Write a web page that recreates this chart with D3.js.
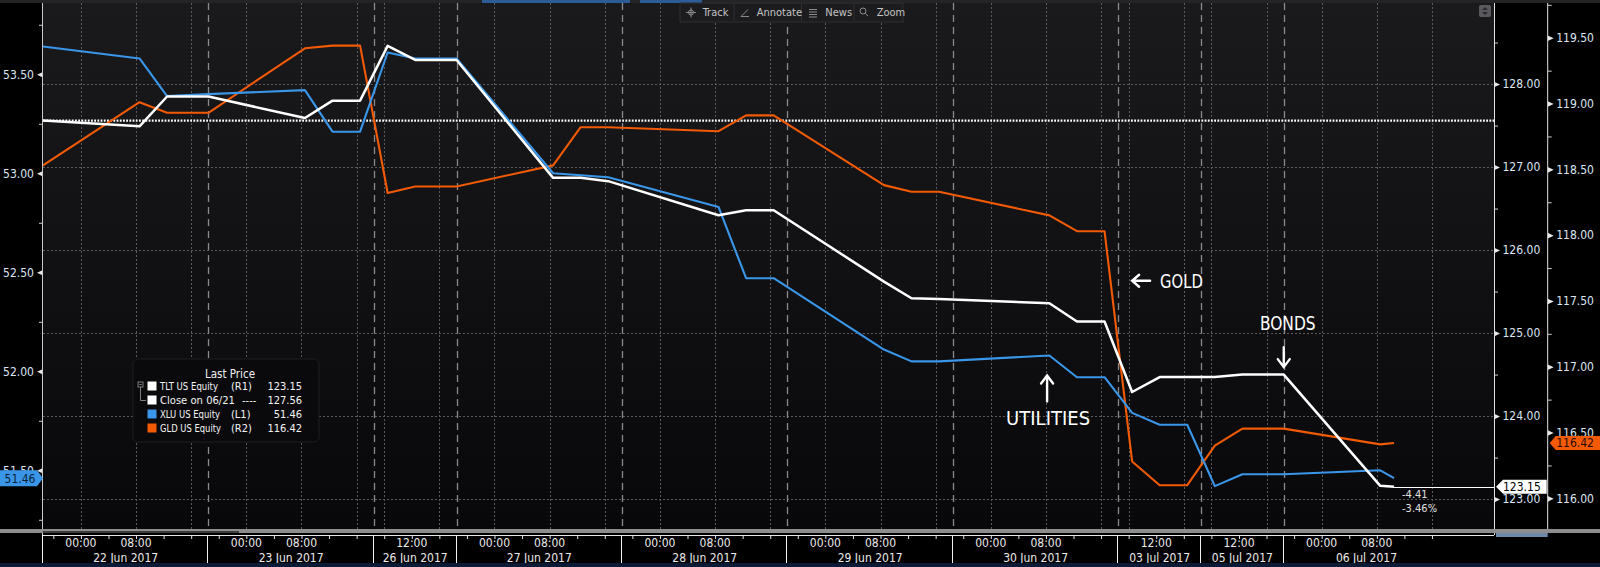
<!DOCTYPE html>
<html><head><meta charset="utf-8">
<script src="https://cdn.jsdelivr.net/npm/d3@7"></script>
<style>
html,body{margin:0;padding:0;background:#000;overflow:hidden}
svg{display:block}
text{font-family:"DejaVu Sans Condensed","DejaVu Sans",sans-serif;font-stretch:condensed}
.narrow{font-family:"Liberation Sans Narrow","DejaVu Sans Condensed","DejaVu Sans",sans-serif}
</style></head><body>
<svg id="c" width="1600" height="567"></svg>
<script>
// ---------------- DATA ----------------
const sessionLabels = ["22 Jun 2017","23 Jun 2017","26 Jun 2017","27 Jun 2017","28 Jun 2017","29 Jun 2017","30 Jun 2017","03 Jul 2017","05 Jul 2017","06 Jul 2017"];
const sessionStarts = ["2017-06-21 18:30","2017-06-22 18:30","2017-06-26 06:30","2017-06-26 18:30","2017-06-27 18:30","2017-06-28 18:30","2017-06-29 18:30","2017-07-03 06:30","2017-07-05 06:30","2017-07-05 18:30"];
const sessionEnds   = ["2017-06-22 18:30","2017-06-23 18:30","2017-06-26 18:30","2017-06-27 18:30","2017-06-28 18:30","2017-06-29 18:30","2017-06-30 18:30","2017-07-03 18:30","2017-07-05 18:30","2017-07-06 18:30"];
const sessionTimeLabels = [["00:00","08:00"],["00:00","08:00"],["12:00"],["00:00","08:00"],["00:00","08:00"],["00:00","08:00"],["00:00","08:00"],["12:00"],["12:00"],["00:00","08:00"]];
const chartEnd = "2017-07-07 01:00";

const times = ["2017-06-21 18:30","2017-06-22 08:30","2017-06-22 12:30","2017-06-22 18:30","2017-06-23 08:30","2017-06-23 12:30","2017-06-23 16:30",
 "2017-06-26 08:30","2017-06-26 12:30","2017-06-26 18:30","2017-06-27 08:30","2017-06-27 12:30","2017-06-27 16:30",
 "2017-06-28 08:30","2017-06-28 12:30","2017-06-28 16:30","2017-06-29 08:30","2017-06-29 12:30","2017-06-29 16:30",
 "2017-06-30 08:30","2017-06-30 12:30","2017-06-30 16:30","2017-07-03 08:30","2017-07-03 12:30","2017-07-03 16:30",
 "2017-07-05 08:30","2017-07-05 12:30","2017-07-05 18:30","2017-07-06 08:30","2017-07-06 10:30"];
const tltValues = [127.56,127.49,127.85,127.85,127.59,127.80,127.80,128.46,128.29,128.29,126.87,126.87,126.83,126.42,126.48,126.48,125.62,125.42,125.41,125.36,125.14,125.14,124.29,124.47,124.47,124.47,124.50,124.50,123.16,123.15];
const xluValues = [53.64,53.58,53.39,53.40,53.42,53.21,53.21,53.61,53.58,53.58,53.00,52.99,52.98,52.83,52.47,52.47,52.11,52.05,52.05,52.08,51.97,51.97,51.79,51.73,51.73,51.42,51.48,51.48,51.50,51.46];
const gldValues = [118.53,119.01,118.93,118.93,119.42,119.44,119.44,118.32,118.37,118.37,118.53,118.82,118.82,118.79,118.91,118.91,118.38,118.33,118.33,118.15,118.03,118.03,116.28,116.10,116.10,116.40,116.53,116.53,116.41,116.42];
const closeValue = 127.56;

const legendNames = ["TLT US Equity","Close on 06/21","XLU US Equity","GLD US Equity"];
const legendTags  = ["(R1)","----","(L1)","(R2)"];

const l1Ticks = [51.5,52.0,52.5,53.0,53.5];
const l1Minor = [51.25,51.75,52.25,52.75,53.25,53.75];
const r1Ticks = [123,124,125,126,127,128];
const r1Minor = [123.5,124.5,125.5,126.5,127.5,128.5];
const r2Ticks = [116.0,116.5,117.0,117.5,118.0,118.5,119.0,119.5];
const r2Minor = [116.25,116.75,117.25,117.75,118.25,118.75,119.25,119.75];
const l1Domain = [51.2035,53.860];
const r1Domain = [122.64,128.976];
const r2Domain = [115.767,119.764];

const annotations = [
  {label:"GOLD", dir:"left", t:"2017-07-03 08:30", v:125.63},
  {label:"BONDS", dir:"down", t:"2017-07-05 18:30", v:124.59},
  {label:"UTILITIES", dir:"up", t:"2017-06-30 08:10", v:124.49}
];

// ---------------- LAYOUT ----------------
const W=1600,H=567;
const M={left:43,right:1494,top:3,bottom:529};
const R2X=1547.7, AX_Y=535;
const C={tlt:"#ffffff",xlu:"#3a96e8",gld:"#f25a05"};
const f2v=d3.format(".2f");
const f2=v=>f2v(v).replace("\u2212","-");

const svg=d3.select("#c");
const defs=svg.append("defs");
const grad=defs.append("linearGradient").attr("id","bg").attr("x1",0).attr("x2",0).attr("y1",0).attr("y2",1);
grad.append("stop").attr("offset","0%").attr("stop-color","#1a1a1d");
grad.append("stop").attr("offset","100%").attr("stop-color","#08080a");

svg.append("rect").attr("width",W).attr("height",H).attr("fill","#000");
svg.append("rect").attr("x",M.left).attr("y",M.top).attr("width",M.right-M.left).attr("height",M.bottom-M.top).attr("fill","url(#bg)");
svg.append("rect").attr("x",0).attr("y",0).attr("width",W).attr("height",3).attr("fill","#242427");
svg.append("rect").attr("x",482).attr("y",0).attr("width",148).attr("height",3).attr("fill","#2c5c95");
svg.append("rect").attr("x",640).attr("y",0).attr("width",62).attr("height",3).attr("fill","#2c5c95");

// ---------------- SCALES ----------------
const parse=d3.utcParse("%Y-%m-%d %H:%M");
const sessions=sessionLabels.map((l,i)=>({label:l,start:parse(sessionStarts[i]),end:parse(sessionEnds[i]),tl:sessionTimeLabels[i],date:sessionEnds[i].slice(0,10)}));
const dom=[],hrs=[];let cum=0;
sessions.forEach(s=>{
  if(!dom.length||+dom[dom.length-1]!==+s.start){dom.push(s.start);hrs.push(cum);}
  cum+=(s.end-s.start)/36e5; dom.push(s.end); hrs.push(cum);
});
const endT=parse(chartEnd); cum+=(endT-dom[dom.length-1])/36e5; dom.push(endT); hrs.push(cum);
const x=d3.scaleLinear().domain(dom).range(hrs.map(h=>M.left+h/cum*(M.right-M.left)));
const yL=d3.scaleLinear().domain(l1Domain).range([M.bottom,M.top]);
const yR1=d3.scaleLinear().domain(r1Domain).range([M.bottom,M.top]);
const yR2=d3.scaleLinear().domain(r2Domain).range([M.bottom,M.top]);

// ---------------- GRID ----------------
const g=svg.append("g");
g.selectAll("line.hg").data(r1Ticks).join("line")
  .attr("x1",M.left).attr("x2",M.right).attr("y1",d=>Math.round(yR1(d))+0.5).attr("y2",d=>Math.round(yR1(d))+0.5)
  .attr("stroke","#5a5a5e").attr("stroke-dasharray","2,2");
const tick4=[];
sessions.forEach(s=>{ d3.utcHour.every(4).range(s.start,s.end).forEach(t=>tick4.push(t)); });
const grid8=tick4.filter(t=>t.getUTCHours()%8===0);
g.selectAll("line.vg").data(grid8).join("line")
  .attr("x1",d=>Math.round(x(d))+0.5).attr("x2",d=>Math.round(x(d))+0.5).attr("y1",M.top).attr("y2",M.bottom)
  .attr("stroke","#5a5a5e").attr("stroke-dasharray","2,2");
g.selectAll("line.sep").data(sessions.slice(1)).join("line")
  .attr("x1",d=>Math.round(x(d.start))+0.5).attr("x2",d=>Math.round(x(d.start))+0.5).attr("y1",M.top).attr("y2",M.bottom)
  .attr("stroke","#8a8a8e").attr("stroke-width",1.3).attr("stroke-dasharray","7,5");

svg.append("line").attr("x1",M.left).attr("x2",M.right).attr("y1",yR1(closeValue)).attr("y2",yR1(closeValue))
  .attr("stroke","#fff").attr("stroke-width",2.2).attr("stroke-dasharray","1.8,1.4");

// ---------------- SERIES ----------------
const pts=(vals)=>times.map((t,i)=>({t:parse(t),v:vals[i]}));
const mk=(ys)=>d3.line().x(d=>x(d.t)).y(d=>ys(d.v));
svg.append("path").datum(pts(gldValues)).attr("d",mk(yR2)).attr("fill","none").attr("stroke",C.gld).attr("stroke-width",2.1).attr("stroke-linejoin","round");
svg.append("path").datum(pts(xluValues)).attr("d",mk(yL)).attr("fill","none").attr("stroke",C.xlu).attr("stroke-width",2.1).attr("stroke-linejoin","round");
svg.append("path").datum(pts(tltValues)).attr("d",mk(yR1)).attr("fill","none").attr("stroke",C.tlt).attr("stroke-width",2.5).attr("stroke-linejoin","round");

const lastT=parse(times[times.length-1]);
const lastTLT=tltValues[tltValues.length-1], lastXLU=xluValues[xluValues.length-1], lastGLD=gldValues[gldValues.length-1];
svg.append("line").attr("x1",x(lastT)).attr("x2",M.right).attr("y1",Math.round(yR1(lastTLT))+0.5).attr("y2",Math.round(yR1(lastTLT))+0.5).attr("stroke","#fff").attr("stroke-width",1);
const chg=lastTLT-closeValue;
svg.append("text").attr("x",x(lastT)+8).attr("y",yR1(lastTLT)+11).attr("font-size",11).attr("fill","#e0e0e0").text(f2(chg));
svg.append("text").attr("x",x(lastT)+8).attr("y",yR1(lastTLT)+25).attr("font-size",11).attr("fill","#e0e0e0").text(f2(chg/closeValue*100)+"%");

// ---------------- ANNOTATIONS ----------------
const an=svg.append("g").attr("stroke","#fff").attr("stroke-width",2.4).attr("fill","none").attr("stroke-linecap","round");
const annLen={GOLD:42.7,BONDS:55.7,UTILITIES:84};
annotations.forEach(a=>{
  const ax=x(parse(a.t)), ay=yR1(a.v);
  let tx,ty,anchor;
  if(a.dir==="left"){
    an.append("path").attr("d",`M${ax},${ay}H${ax+18}M${ax+7},${ay-6}L${ax},${ay}L${ax+7},${ay+6}`);
    tx=ax+28; ty=ay; anchor="start";
  } else if(a.dir==="down"){
    an.append("path").attr("d",`M${ax},${ay}V${ay-20}M${ax-6},${ay-8}L${ax},${ay}L${ax+6},${ay-8}`);
    tx=ax+4; ty=ay-44; anchor="middle";
  } else {
    an.append("path").attr("d",`M${ax},${ay}V${ay+26}M${ax-6},${ay+8}L${ax},${ay}L${ax+6},${ay+8}`);
    tx=ax+1; ty=ay+43; anchor="middle";
  }
  svg.append("text").attr("class","narrow").attr("x",tx).attr("y",ty).attr("dy","0.36em").attr("text-anchor",anchor)
    .attr("font-size",19).attr("fill","#fff").attr("textLength",annLen[a.label]).attr("lengthAdjust","spacingAndGlyphs").text(a.label);
});

// ---------------- AXES ----------------
const gl=svg.append("g").attr("transform",`translate(${M.left},0)`);
gl.call(d3.axisLeft(yL).tickValues(l1Ticks).tickSize(0).tickPadding(9).tickFormat(f2));
gl.select(".domain").remove();
gl.selectAll("text").attr("fill","#dbe6f2").attr("font-size",12).attr("font-family",null);
gl.selectAll(".tick").append("path").attr("d","M0,-2.8L-6,0L0,2.8Z").attr("fill","#e8e8e8");
const glm=svg.append("g").attr("transform",`translate(${M.left},0)`);
glm.call(d3.axisLeft(yL).tickValues(l1Minor).tickSize(4).tickFormat(""));
glm.select(".domain").remove(); glm.selectAll("line").attr("stroke","#cfcfcf");
svg.append("line").attr("x1",M.left-0.5).attr("x2",M.left-0.5).attr("y1",M.top).attr("y2",563).attr("stroke","#c8c8c8");

const gr=svg.append("g").attr("transform",`translate(${M.right},0)`);
gr.call(d3.axisRight(yR1).tickValues(r1Ticks).tickSize(0).tickPadding(8.5).tickFormat(f2));
gr.select(".domain").remove();
gr.selectAll("text").attr("fill","#dbe6f2").attr("font-size",12).attr("font-family",null);
gr.selectAll(".tick").append("path").attr("d","M0,-2.8L6,0L0,2.8Z").attr("fill","#e8e8e8");
const grm=svg.append("g").attr("transform",`translate(${M.right},0)`);
grm.call(d3.axisRight(yR1).tickValues(r1Minor).tickSize(4).tickFormat(""));
grm.select(".domain").remove(); grm.selectAll("line").attr("stroke","#cfcfcf");
svg.append("line").attr("x1",M.right+0.5).attr("x2",M.right+0.5).attr("y1",M.top).attr("y2",AX_Y).attr("stroke","#e0e0e0");

const gr2=svg.append("g").attr("transform",`translate(${R2X},0)`);
gr2.call(d3.axisRight(yR2).tickValues(r2Ticks).tickSize(0).tickPadding(8.5).tickFormat(f2));
gr2.select(".domain").remove();
gr2.selectAll("text").attr("fill","#dbe6f2").attr("font-size",12).attr("font-family",null);
gr2.selectAll(".tick").append("path").attr("d","M0,-2.8L6,0L0,2.8Z").attr("fill","#e8e8e8");
const gr2m=svg.append("g").attr("transform",`translate(${R2X},0)`);
gr2m.call(d3.axisRight(yR2).tickValues(r2Minor).tickSize(4).tickFormat(""));
gr2m.select(".domain").remove(); gr2m.selectAll("line").attr("stroke","#cfcfcf");
svg.append("line").attr("x1",R2X).attr("x2",R2X).attr("y1",M.top).attr("y2",M.bottom).attr("stroke","#e0e0e0");

svg.append("rect").attr("x",0).attr("y",M.bottom).attr("width",W).attr("height",4).attr("fill","#8d8d8d");
svg.append("rect").attr("x",M.left).attr("y",M.bottom+2).attr("width",196).attr("height",2).attr("fill","#3c3c3c");
svg.append("rect").attr("x",M.right+2).attr("y",AX_Y-2).attr("width",R2X-M.right-2).attr("height",4).attr("fill","#6f88aa");

const gx=svg.append("g").attr("transform",`translate(0,${AX_Y})`);
gx.call(d3.axisBottom(x).tickValues(tick4).tickSize(4).tickFormat(""));
gx.select(".domain").attr("stroke","#e6e6e6").attr("d",`M${M.left},0.5H${M.right}`);
gx.selectAll("line").attr("stroke","#e6e6e6");
svg.selectAll("line.sepx").data(sessions).join("line")
  .attr("x1",d=>Math.round(x(d.start))-0.5).attr("x2",d=>Math.round(x(d.start))-0.5).attr("y1",AX_Y).attr("y2",563).attr("stroke","#f0f0f0");
sessions.forEach(s=>{
  s.tl.forEach(lab=>{
    const t=parse(s.date+" "+lab);
    svg.append("text").attr("x",x(t)).attr("y",543).attr("dy","0.36em").attr("text-anchor","middle").attr("font-size",12).attr("fill","#eaeaea").text(lab);
  });
  svg.append("text").attr("x",(x(s.start)+x(s.end))/2).attr("y",558).attr("dy","0.36em").attr("text-anchor","middle").attr("font-size",12).attr("fill","#eaeaea").text(s.label);
});
svg.append("rect").attr("x",0).attr("y",563).attr("width",W).attr("height",4).attr("fill","#0b1b36");

// last value tags
const yl=yL(lastXLU);
svg.append("path").attr("d",`M0,${yl-8}H37L43,${yl}L37,${yl+8}H0Z`).attr("fill",C.xlu);
svg.append("text").attr("x",20).attr("y",yl).attr("dy","0.36em").attr("text-anchor","middle").attr("font-size",12).attr("fill","#0b1e36").text(f2(lastXLU));
const yt=yR1(lastTLT);
svg.append("path").attr("d",`M${M.right+2},${yt}L${M.right+9},${yt-7}H${R2X-1}V${yt+7}H${M.right+9}Z`).attr("fill","#fff");
svg.append("text").attr("x",M.right+9).attr("y",yt).attr("dy","0.36em").attr("font-size",12).attr("fill","#000").text(f2(lastTLT));
const yg=yR2(lastGLD);
svg.append("path").attr("d",`M${R2X+2},${yg}L${R2X+8},${yg-7}H${W}V${yg+7}H${R2X+8}Z`).attr("fill",C.gld);
svg.append("text").attr("x",R2X+8.5).attr("y",yg).attr("dy","0.36em").attr("font-size",12).attr("fill","#2b0c00").text(f2(lastGLD));

// ---------------- LEGEND ----------------
const lg=svg.append("g");
lg.append("rect").attr("x",133).attr("y",359).attr("width",186).attr("height",83).attr("rx",5).attr("fill","#0a0a0c").attr("stroke","#1e1e22");
lg.append("text").attr("x",230).attr("y",373.5).attr("dy","0.36em").attr("text-anchor","middle").attr("font-size",11.5).attr("fill","#f0f0f0").text("Last Price");
const legColors=[C.tlt,"#ffffff",C.xlu,C.gld];
const legVals=[lastTLT,closeValue,lastXLU,lastGLD];
const legNameLen=[58,75,60,61];
legendNames.forEach((n,i)=>{
  const yy=386+i*14;
  lg.append("rect").attr("x",147.5).attr("y",yy-4.5).attr("width",9).attr("height",9).attr("fill",legColors[i]);
  lg.append("text").attr("x",160).attr("y",yy).attr("dy","0.36em").attr("font-size",10.5).attr("fill","#f4f4f4")
    .attr("textLength",legNameLen[i]).attr("lengthAdjust","spacingAndGlyphs").text(n);
  lg.append("text").attr("x",i===1?242:231).attr("y",yy).attr("dy","0.36em").attr("font-size",11).attr("fill","#f4f4f4").text(legendTags[i]);
  lg.append("text").attr("x",302).attr("y",yy).attr("dy","0.36em").attr("text-anchor","end").attr("font-size",11).attr("fill","#f4f4f4").text(f2(legVals[i]));
});
lg.append("rect").attr("x",138).attr("y",382).attr("width",5).attr("height",5).attr("fill","none").attr("stroke","#9a9a9a").attr("stroke-width",0.8);
lg.append("path").attr("d","M139.3,384.5H141.7M140.5,387V400.5H146").attr("stroke","#9a9a9a").attr("stroke-width",0.8).attr("fill","none");

// ---------------- TOOLBAR ----------------
const tb=svg.append("g");
tb.append("rect").attr("x",680).attr("y",3).attr("width",223).attr("height",19).attr("fill","#1c1c1f").attr("stroke","#2f2f34");
[734,801.5,854].forEach(px=>tb.append("line").attr("x1",px).attr("x2",px).attr("y1",4).attr("y2",21).attr("stroke","#303036"));
const tbItems=[["Track",702.7],["Annotate",756.7],["News",825.3],["Zoom",876.7]];
tbItems.forEach(d=>tb.append("text").attr("x",d[1]).attr("y",12.5).attr("dy","0.36em").attr("font-size",11).attr("fill","#c4c4c4").text(d[0]));
const ic=tb.append("g").attr("stroke","#8a8a8a").attr("fill","none").attr("stroke-width",1);
ic.append("circle").attr("cx",691).attr("cy",12.5).attr("r",2.5);
ic.append("path").attr("d","M691,7.5V17.5M686,12.5H696");
ic.append("path").attr("d","M741,16.5L748,9.5M741,16.5H749");
ic.append("path").attr("d","M809,9.5H817M809,12H817M809,14.5H817M809,17H817");
ic.append("circle").attr("cx",863).attr("cy",11).attr("r",3);
ic.append("path").attr("d","M865.2,13.2L868,16");
svg.append("rect").attr("x",1479).attr("y",5).attr("width",12).attr("height",12).attr("rx",2).attr("fill","#5a5a5e");
svg.append("path").attr("d","M1482,10L1485,7L1488,10ZM1482,12L1485,15L1488,12Z").attr("fill","#2a2a2e");
</script>
</body></html>
